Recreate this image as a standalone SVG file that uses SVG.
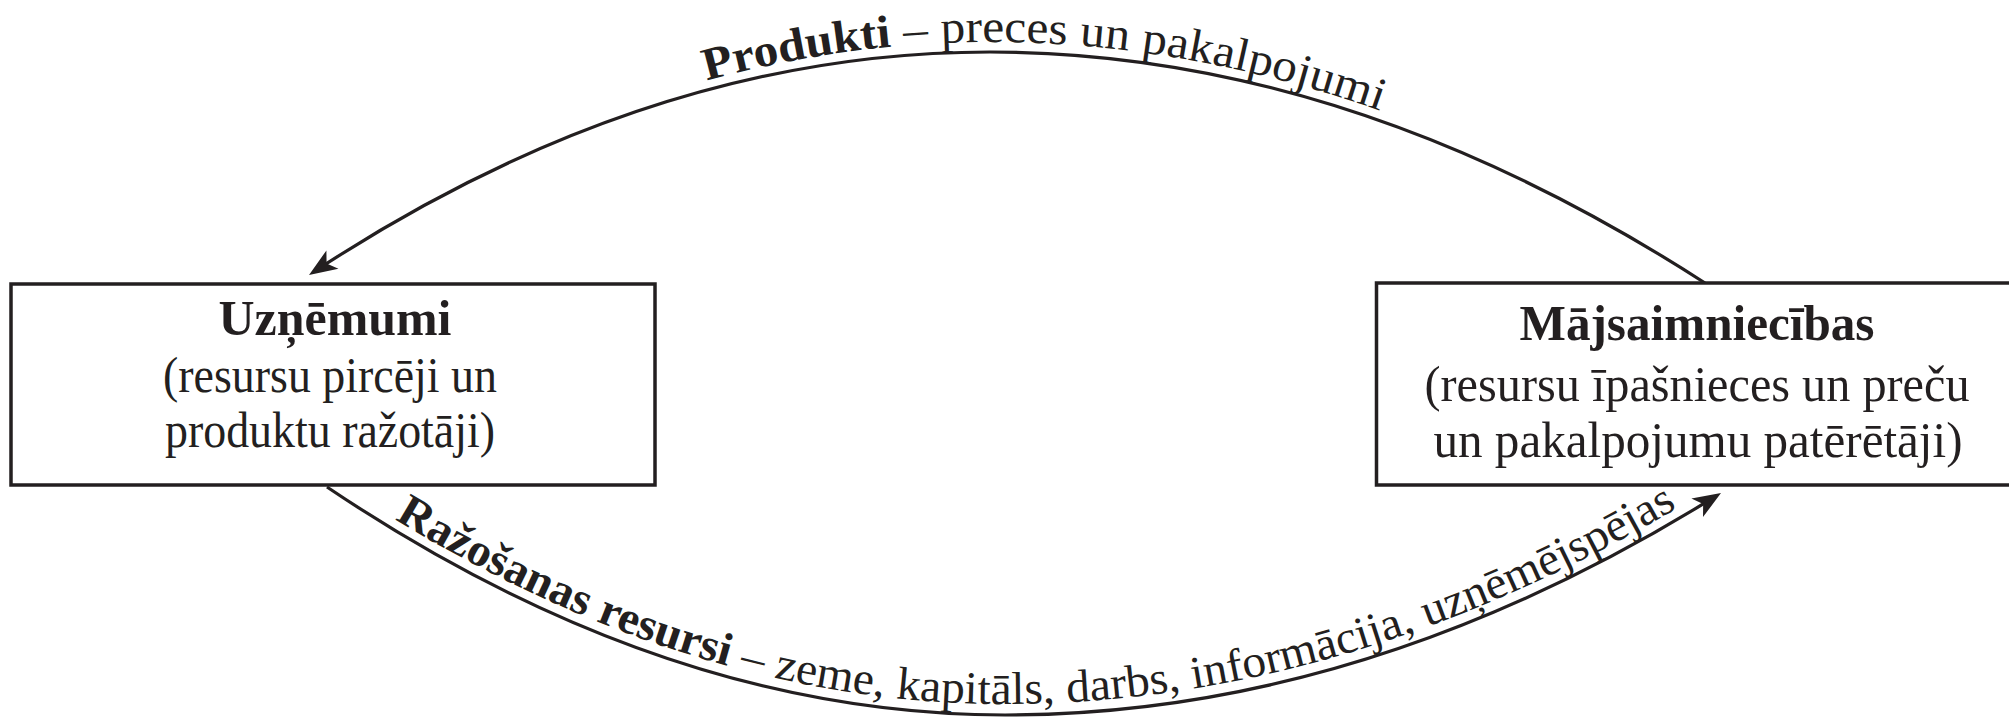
<svg xmlns="http://www.w3.org/2000/svg" xmlns:xlink="http://www.w3.org/1999/xlink" width="2009" height="717" viewBox="0 0 2009 717">
<style>
.box{fill:#fff;stroke:#231f20;stroke-width:3.5}
.arc{fill:none;stroke:#231f20;stroke-width:3.2}
.t{font-family:"Liberation Serif","Times New Roman",serif;fill:#231f20}
.b{font-weight:bold}
.bt{font-size:50px;text-anchor:middle}
.bt2{font-size:51px;text-anchor:middle}
.ct{font-size:46px}
</style>
<defs>
<marker id="ah" markerUnits="userSpaceOnUse" orient="auto" viewBox="-24 -14 36 28" markerWidth="36" markerHeight="28" refX="0" refY="0">
<path d="M8,0 L-20,-11 L-13,0 L-20,11 Z" fill="#231f20"/>
</marker>
<path id="tp-top" d="M309,265 Q649.5,42 990,42 Q1347.5,42 1705,273"/>
<path id="tp-bot" d="M327,476 Q666,704 1005,704 Q1363,704 1721,482"/>
</defs>
<g id="connectors">
<path id="c-products" class="arc" d="M1705,283 Q1347.5,52 990,52 Q649.5,52 315.7,270.6" marker-end="url(#ah)"/>
<path id="c-resources" class="arc" d="M327,487 Q666,715 1005,715 Q1363,715 1714.2,497.2" marker-end="url(#ah)"/>
<text class="t ct" textLength="685" lengthAdjust="spacingAndGlyphs"><textPath xlink:href="#tp-top" href="#tp-top" startOffset="440"><tspan class="b">Produkti</tspan> – preces un pakalpojumi</textPath></text>
<text class="t ct" textLength="1355" lengthAdjust="spacingAndGlyphs"><textPath xlink:href="#tp-bot" href="#tp-bot" startOffset="80"><tspan class="b">Ražošanas resursi</tspan> – zeme, kapitāls, darbs, informācija, uzņēmējspējas</textPath></text>
</g>
<g id="node-uznemumi">
<rect class="box" x="11" y="284" width="644" height="201"/>
<text class="t bt b" x="335" y="335" textLength="233" lengthAdjust="spacingAndGlyphs">Uzņēmumi</text>
<text class="t bt" x="330" y="392" textLength="334" lengthAdjust="spacingAndGlyphs">(resursu pircēji un</text>
<text class="t bt" x="330" y="447" textLength="330" lengthAdjust="spacingAndGlyphs">produktu ražotāji)</text>
</g>
<g id="node-majsaimniecibas">
<rect class="box" x="1376.5" y="283" width="645" height="202"/>
<text class="t bt2 b" x="1697" y="340" textLength="355" lengthAdjust="spacingAndGlyphs">Mājsaimniecības</text>
<text class="t bt2" x="1697" y="401" textLength="545" lengthAdjust="spacingAndGlyphs">(resursu īpašnieces un preču</text>
<text class="t bt2" x="1698" y="457" textLength="529" lengthAdjust="spacingAndGlyphs">un pakalpojumu patērētāji)</text>
</g>
</svg>
